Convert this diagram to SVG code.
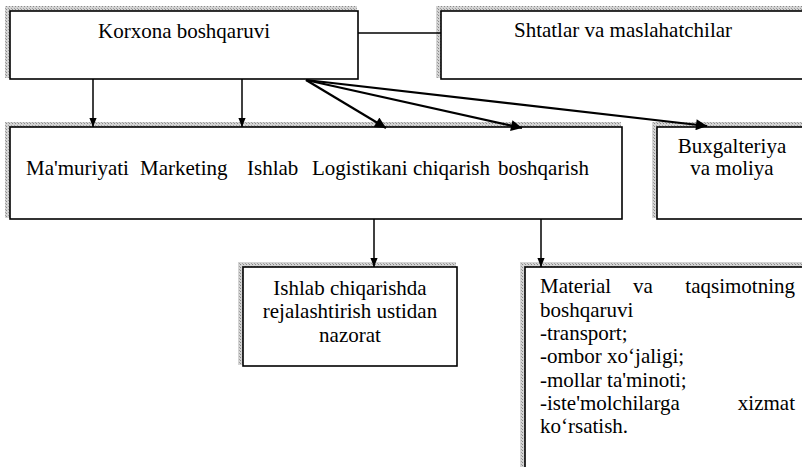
<svg xmlns="http://www.w3.org/2000/svg" width="802" height="467" viewBox="0 0 802 467">
<style>
.bx{fill:#fff;stroke:#000;stroke-width:1.6}
.sh{fill:url(#dots)}
.t{font-family:"Liberation Serif","Times New Roman",serif;font-size:21px;fill:#000}
.c{text-anchor:middle}
.e{text-anchor:end}
.ln{stroke:#000;stroke-width:1.5;fill:none}
.dg{stroke:#000;stroke-width:2.2;fill:none}
</style>
<defs>
<pattern id="dots" width="3" height="3" patternUnits="userSpaceOnUse">
<rect width="3" height="3" fill="#d4d4d4"/>
<rect width="1" height="1" fill="#8a8a8a"/>
<rect x="2" y="2" width="1" height="1" fill="#a0a0a0"/>
</pattern>
<marker id="ah" viewBox="0 0 10 10" refX="10" refY="5" markerWidth="9" markerHeight="9" markerUnits="userSpaceOnUse" orient="auto">
<path d="M0,1 L10,5 L0,9 z" fill="#000"/>
</marker>
<marker id="ab" viewBox="0 0 10 10" refX="10" refY="5" markerWidth="13" markerHeight="11" markerUnits="userSpaceOnUse" orient="auto">
<path d="M0,0 L10,5 L0,10 z" fill="#000"/>
</marker>
</defs>
<rect width="802" height="467" fill="#fff"/>

<g id="korxona">
<rect class="sh" x="5" y="6" width="352" height="72"/>
<rect class="bx" x="10" y="11" width="348" height="68"/>
<text class="t c" x="184" y="38">Korxona boshqaruvi</text>
</g>

<g id="shtatlar">
<rect class="sh" x="436" y="6" width="380" height="72"/>
<rect class="bx" x="441" y="11" width="375" height="68"/>
<text class="t c" x="623" y="37">Shtatlar va maslahatchilar</text>
</g>

<g id="bolimlar">
<rect class="sh" x="5" y="122" width="616" height="96"/>
<rect class="bx" x="10" y="127" width="612" height="92"/>
<text class="t" y="175"><tspan x="26">Ma'muriyati</tspan><tspan x="140">Marketing</tspan><tspan x="247">Ishlab</tspan><tspan x="312">Logistikani chiqarish</tspan><tspan dx="8">boshqarish</tspan></text>
</g>

<g id="buxgalteriya">
<rect class="sh" x="652" y="122" width="165" height="96"/>
<rect class="bx" x="657" y="127" width="160" height="92"/>
<text class="t c" x="732" y="153">Buxgalteriya</text>
<text class="t c" x="732" y="175">va moliya</text>
</g>

<g id="rejalashtirish">
<rect class="sh" x="238" y="262" width="218" height="103"/>
<rect class="bx" x="243" y="267" width="214" height="99"/>
<text class="t c" x="350" y="295">Ishlab chiqarishda</text>
<text class="t c" x="350" y="318">rejalashtirish ustidan</text>
<text class="t c" x="350" y="342">nazorat</text>
</g>

<g id="material">
<rect class="sh" x="520" y="262" width="300" height="215"/>
<rect class="bx" x="525" y="267" width="295" height="215"/>
<text class="t" y="293"><tspan x="540">Material</tspan><tspan x="633">va</tspan></text>
<text class="t e" x="795" y="293">taqsimotning</text>
<text class="t" x="540" y="317">boshqaruvi</text>
<text class="t" x="540" y="340">-transport;</text>
<text class="t" x="540" y="363">-ombor xo‘jaligi;</text>
<text class="t" x="540" y="387">-mollar ta'minoti;</text>
<text class="t" x="540" y="410">-iste'molchilarga</text>
<text class="t e" x="795" y="410">xizmat</text>
<text class="t" x="540" y="433">ko‘rsatish.</text>
</g>

<g id="connectors">
<line class="ln" x1="358" y1="33" x2="441" y2="33"/>
<line class="ln" x1="93" y1="79" x2="93" y2="127" marker-end="url(#ah)"/>
<line class="ln" x1="242" y1="79" x2="242" y2="127" marker-end="url(#ah)"/>
<line class="dg" x1="306" y1="80" x2="386" y2="128" marker-end="url(#ab)"/>
<line class="dg" x1="306" y1="80" x2="522" y2="128" marker-end="url(#ab)"/>
<line class="dg" x1="306" y1="80" x2="707" y2="126" marker-end="url(#ab)"/>
<line class="ln" x1="374" y1="219" x2="374" y2="267" marker-end="url(#ah)"/>
<line class="ln" x1="541" y1="219" x2="541" y2="267" marker-end="url(#ah)"/>
</g>
</svg>
